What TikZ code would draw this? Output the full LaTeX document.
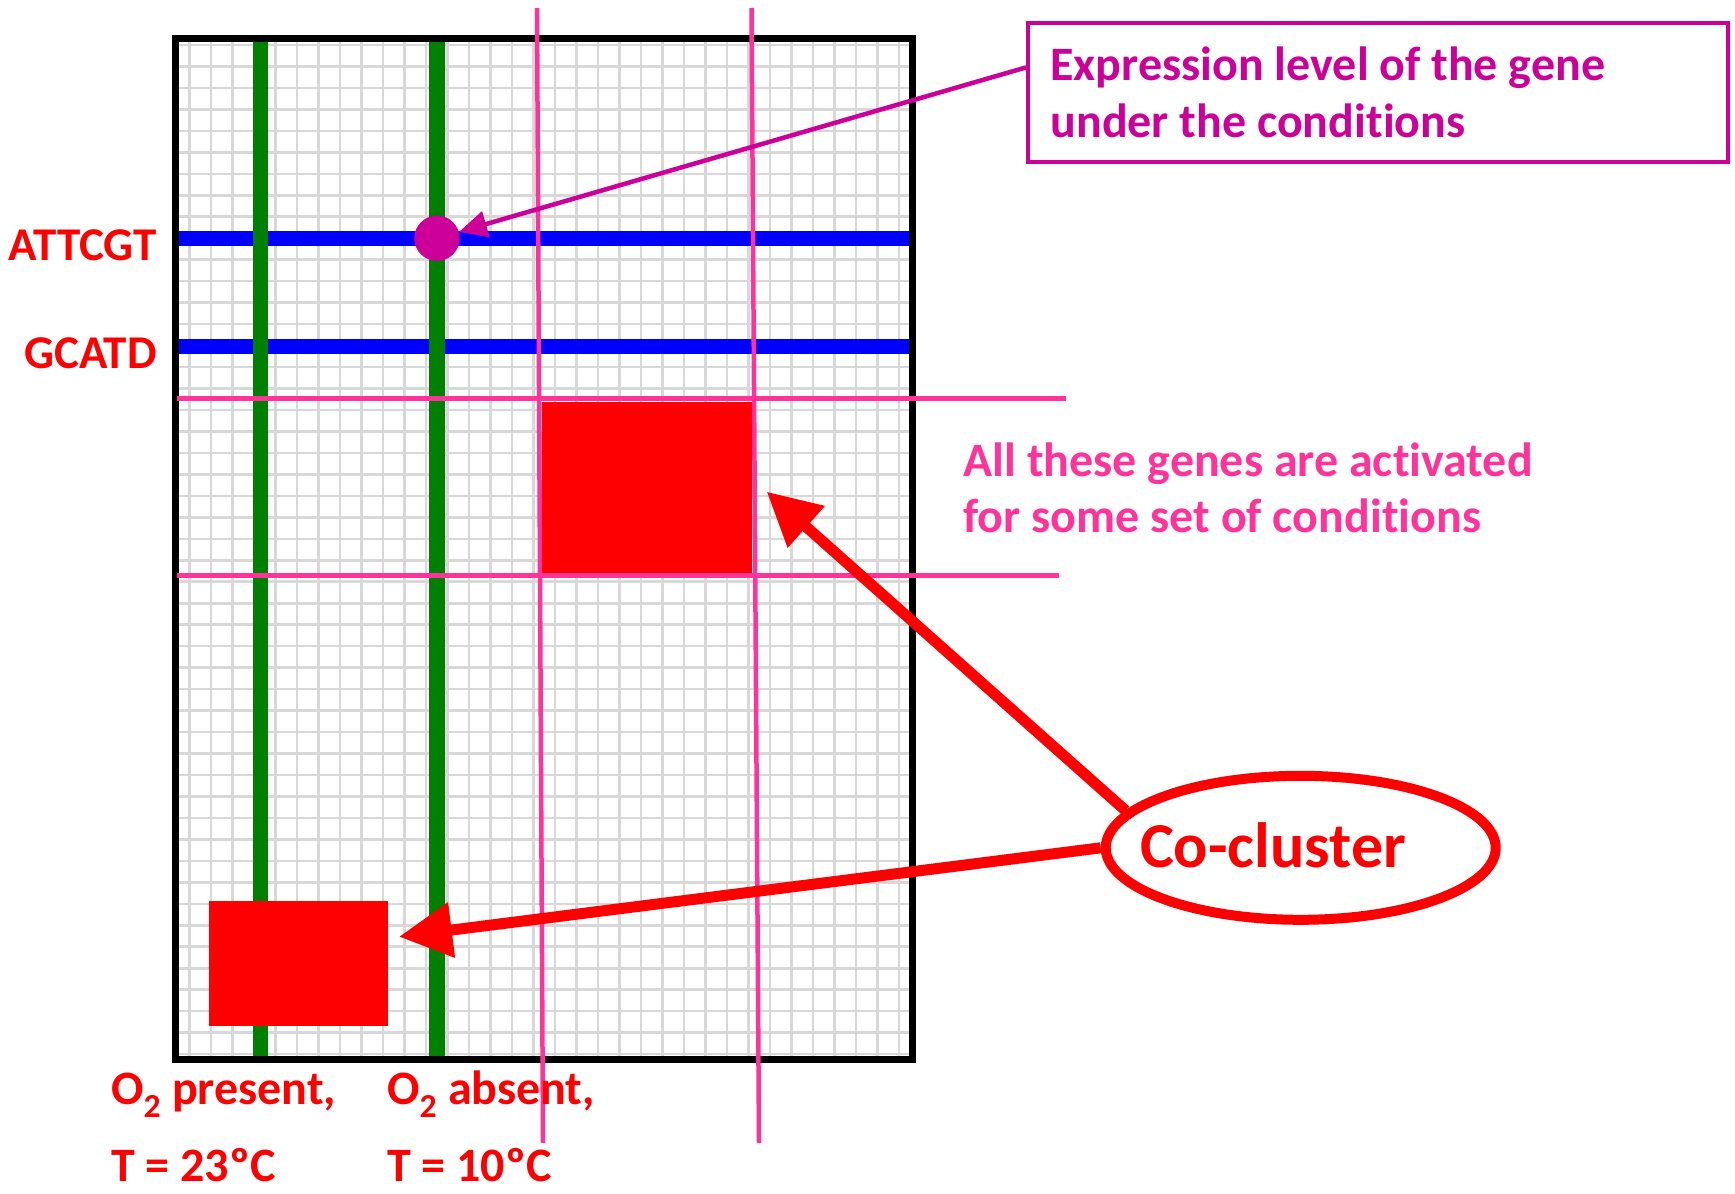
\documentclass[tikz,border=0pt]{standalone}
\usepackage{fontspec}
\setmainfont{Carlito}[Ligatures=NoCommon]
\usetikzlibrary{arrows.meta, shapes.geometric}
\definecolor{gridcolor}{HTML}{D8D8D8}
\definecolor{genecolor}{HTML}{0000FF}
\definecolor{condcolor}{HTML}{008000}
\definecolor{hotred}{HTML}{FF0000}
\definecolor{pinkline}{HTML}{FF3399}
\definecolor{exprcolor}{HTML}{CC0099}

\begin{document}
\begin{tikzpicture}[
    x=1pt, y=-1pt,
    every node/.style={font=\bfseries},
    lab/.style={font=\fontsize{47}{56.7}\selectfont\bfseries, text=hotred, inner sep=0pt},
    note/.style={font=\fontsize{48}{56.7}\selectfont\bfseries, inner sep=0pt, align=flush left},
    pink/.style={pinkline, line width=4.5pt},
    bigarrow/.style={hotred, line width=11pt, -{Triangle[length=53pt, width=53pt]}},
]
\useasboundingbox (0,0) rectangle (1735,1194);

% column i  ->  x = 189.3 + i*21.5,  row j  ->  y = 45 + j*21.47
\def\GX#1{189.3 + #1*21.5}
\def\GY#1{45 + #1*21.47}

% ---------------------------------------------------------------- grid
\foreach \i in {0,...,33}{
    \draw[gridcolor, line width=2.6pt] ({\GX{\i}}, 41) -- ({\GX{\i}}, 1057);
}
\foreach \j in {0,...,47}{
    \draw[gridcolor, line width=2.6pt] (178, {\GY{\j}}) -- (910, {\GY{\j}});
}

% genes (rows) and conditions (columns)
\foreach \y in {238, 346}{
    \draw[genecolor, line width=15pt] (176, \y) -- (913, \y);
}
\foreach \x in {260.5, 437}{
    \draw[condcolor, line width=15.5pt] (\x, 38) -- (\x, 1060);
}

% two co-clusters
\fill[hotred] (541.7, 401.7) rectangle (752.3, 573.3);
\fill[hotred] (209, 901) rectangle (387.7, 1026);

\draw[black, line width=6.5pt] (175.3, 38.3) rectangle (912.7, 1059.7);

% ---------------------------------------------------------------- bicluster bounds
\draw[pink] (537, 8) -- (543, 1143);
\draw[pink] (751.5, 8) -- (759, 1143);
\draw[pink] (177, 398.5) -- (1066, 398.5);
\draw[pink] (177, 575.5) -- (1059, 575.5);

% ---------------------------------------------------------------- labels
\node[lab, anchor=base east] (attcgt) at (157, 260) {ATTCGT};
\node[lab, anchor=base east] (gcatd) at (157, 368.3) {GCATD};
% base of a two-line node = baseline of its last line
\node[lab, anchor=base west, align=left, font=\fontsize{48}{77}\selectfont\bfseries]
    (o2pres) at (111, 1181) {O\textsubscript{2} present,\\T = 23ºC};
\node[lab, anchor=base west, align=left, font=\fontsize{48}{77}\selectfont\bfseries]
    (o2abs) at (387, 1181) {O\textsubscript{2} absent,\\T = 10ºC};

\node[note, text=pinkline, anchor=base west] (actnote) at (963.3, 532.7)
    {All these genes are activated\\for some set of conditions};

% ---------------------------------------------------------------- expression level
\node[circle, fill=exprcolor, minimum size=45.4pt, inner sep=0pt] (expr) at (437, 238.3) {};
\node[note, text=exprcolor, draw=exprcolor, line width=4pt, minimum width=700pt,
    minimum height=139pt, text width=655pt] (exprbox) at (1378, 92.2)
    {Expression level of the gene\\under the conditions};
\draw[exprcolor, line width=4.5pt, -{Triangle[length=28pt, width=26pt]}]
    ([yshift=24.8pt]exprbox.west) -- (expr);

% ---------------------------------------------------------------- co-cluster
\node[ellipse, draw=hotred, line width=10pt, minimum width=390pt,
    minimum height=144pt, inner sep=0pt] (cocluster) at (1300.7, 847.8) {};
\node[text=hotred, font=\fontsize{64}{70}\selectfont\bfseries, anchor=base]
    (coclabel) at (1273, 867.3) {Co-cluster};
\coordinate (tipA) at (766.7, 491.7);
\coordinate (tipB) at (399, 936.7);
\draw[bigarrow] (cocluster.168) -- (tipA);
\draw[bigarrow] (cocluster.west) -- (tipB);

\end{tikzpicture}
\end{document}
